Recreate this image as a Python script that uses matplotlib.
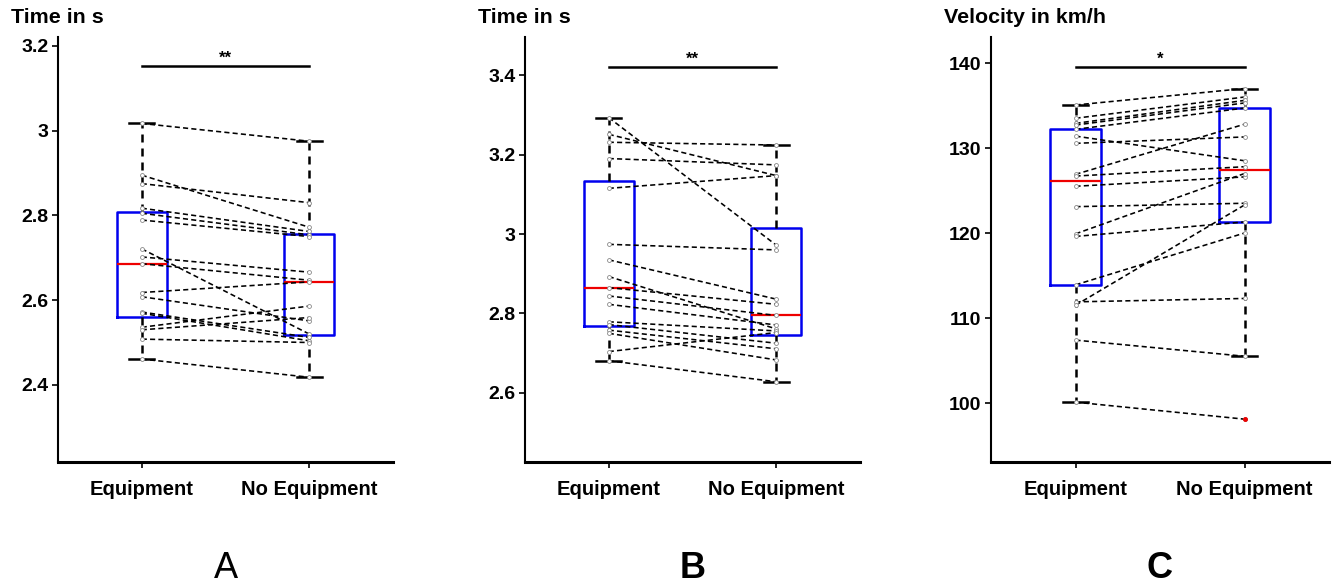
import numpy as np
import matplotlib
matplotlib.use("Agg")
import matplotlib.pyplot as plt
from matplotlib.ticker import FormatStrFormatter, FixedLocator

plt.rcParams['font.family'] = ['Liberation Sans', 'DejaVu Sans']
plt.rcParams['font.weight'] = 'bold'

categories = ['Equipment', 'No Equipment']

# paired trials, same athlete on the same row
time_a_equipment = [3.017, 2.895, 2.875, 2.817, 2.805, 2.789, 2.721, 2.702, 2.686,
                    2.618, 2.608, 2.572, 2.569, 2.536, 2.530, 2.508, 2.461]
time_a_no_equipment = [2.975, 2.772, 2.830, 2.762, 2.754, 2.750, 2.520, 2.666, 2.647,
                       2.643, 2.551, 2.512, 2.504, 2.586, 2.559, 2.500, 2.418]

time_b_equipment = [3.293, 3.251, 3.231, 3.190, 3.115, 2.974, 2.935, 2.893, 2.865,
                    2.844, 2.823, 2.779, 2.772, 2.758, 2.750, 2.704, 2.681]
time_b_no_equipment = [2.972, 3.147, 3.224, 3.174, 3.147, 2.960, 2.836, 2.761, 2.823,
                       2.795, 2.771, 2.756, 2.725, 2.711, 2.683, 2.752, 2.628]

velocity_equipment = [135.06, 133.5, 132.9, 132.7, 132.2, 131.4, 130.55, 126.9, 126.7,
                      125.5, 123.1, 119.9, 119.6, 113.9, 111.9, 111.5, 107.4, 100.1]
velocity_no_equipment = [137.0, 136.0, 135.6, 135.3, 134.7, 128.5, 131.3, 132.8, 127.8,
                         126.6, 123.5, 127.0, 121.3, 120.0, 112.3, 123.3, 105.5, 98.1]

panels = [
    (time_a_equipment, time_a_no_equipment, 'Time in s', [2.4, 2.6, 2.8, 3.0, 3.2], (2.218, 3.221), 3.153, '**', 'A', 'normal'),
    (time_b_equipment, time_b_no_equipment, 'Time in s', [2.6, 2.8, 3.0, 3.2, 3.4], (2.426, 3.496), 3.42, '**', 'B', 'bold'),
    (velocity_equipment, velocity_no_equipment, 'Velocity in km/h', [100, 110, 120, 130, 140], (93.06, 143.06), 139.5, '*', 'C', 'bold'),
]


def box_stats(vals, label):
    # quartiles the way prctile does it (hazen), whiskers at 1.5 IQR
    v = np.asarray(vals)
    q1, med, q3 = np.percentile(v, [25, 50, 75], method='hazen')
    iqr = q3 - q1
    lo = v[v >= q1 - 1.5 * iqr].min()
    hi = v[v <= q3 + 1.5 * iqr].max()
    fl = v[(v < lo) | (v > hi)]
    return dict(med=med, q1=q1, q3=q3, whislo=lo, whishi=hi, fliers=fl, label=label)


def draw_panel(ax, eq, noeq, title, ticks, ylim, sig_y, stars, letter, letter_weight):
    stats = [box_stats(eq, categories[0]), box_stats(noeq, categories[1])]
    ax.bxp(stats, positions=[1, 2], widths=0.3, capwidths=0.15,
           boxprops=dict(color='#0000ee', lw=1.8),
           medianprops=dict(color='#ee0000', lw=1.6),
           whiskerprops=dict(color='black', lw=1.8, linestyle=(0, (3.2, 2.4))),
           capprops=dict(color='black', lw=1.8),
           flierprops=dict(marker='o', markerfacecolor='#ee0000', markeredgecolor='#ee0000',
                           markersize=2.5, zorder=6),
           zorder=2)

    # one dashed line per athlete between the two conditions
    for a, b in zip(eq, noeq):
        ax.plot([1, 2], [a, b], color='black', lw=1.15, linestyle=(0, (3.2, 2.0)), zorder=3)
    ax.plot(np.ones(len(eq)), eq, 'o', ms=2.8, mfc='white', mec='#888888', mew=0.6, zorder=4)
    ax.plot(np.full(len(noeq), 2), noeq, 'o', ms=2.8, mfc='white', mec='#888888', mew=0.6, zorder=4)

    # significance bar
    ax.plot([1, 2], [sig_y, sig_y], color='black', lw=1.8, zorder=5)
    ax.text(1.5, sig_y, stars, ha='center', va='bottom', fontsize=12, fontweight='bold')

    ax.set_xlim(0.5, 2.5)
    ax.set_ylim(*ylim)
    ax.yaxis.set_major_locator(FixedLocator(ticks))
    ax.yaxis.set_major_formatter(FormatStrFormatter('%g'))
    ax.set_xticks([1, 2])
    ax.set_xticklabels(categories)

    for s in ['top', 'right']:
        ax.spines[s].set_visible(False)
    ax.spines['left'].set_linewidth(1.5)
    ax.spines['bottom'].set_linewidth(2.2)
    ax.tick_params(axis='y', length=4, width=1.2, pad=3, labelsize=14)
    ax.tick_params(axis='x', length=4, width=1.2, pad=9, labelsize=14.5)
    for lab in ax.get_xticklabels() + ax.get_yticklabels():
        lab.set_fontweight('bold')

    ax.text(-0.14, 1.045, title, transform=ax.transAxes,
            ha='left', va='center', fontsize=15.4, fontweight='bold')
    ax.text(0.5, -0.25, letter, transform=ax.transAxes, ha='center', va='center',
            fontsize=26, fontweight=letter_weight)


fig = plt.figure(figsize=(13.34, 5.86), dpi=100)
bottom = 1 - 462 / 586
height = (462 - 37) / 586
lefts = [58, 525, 991]
widths = [335, 335, 338]

for (eq, noeq, title, ticks, ylim, sig_y, stars, letter, lw), left, w in zip(panels, lefts, widths):
    ax = fig.add_axes([left / 1334, bottom, w / 1334, height])
    draw_panel(ax, eq, noeq, title, ticks, ylim, sig_y, stars, letter, lw)

fig.savefig('out.png', dpi=100)
